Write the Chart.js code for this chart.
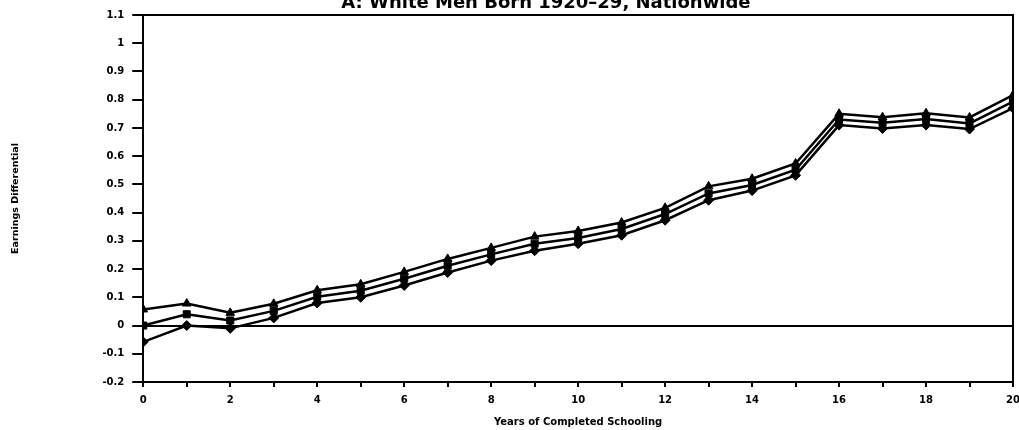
<!DOCTYPE html>
<html>
<head>
<meta charset="utf-8">
<script src="https://cdn.jsdelivr.net/npm/chart.js@4/dist/chart.umd.min.js"></script>
<style>
html,body{margin:0;padding:0;background:#fff;}
#wrap{width:1019px;height:430px;position:relative;overflow:hidden;}
</style>
</head>
<body>
<div id="wrap"><canvas id="c" width="1019" height="430"></canvas></div>
<script>
// ---- data ----
const schooling = [0,1,2,3,4,5,6,7,8,9,10,11,12,13,14,15,16,17,18,19,20];
const upperBound = [0.057,0.078,0.045,0.077,0.125,0.146,0.190,0.236,0.275,0.315,0.335,0.365,0.417,0.493,0.520,0.574,0.750,0.738,0.752,0.737,0.816];
const estimate   = [0.000,0.040,0.018,0.052,0.102,0.123,0.166,0.212,0.252,0.290,0.310,0.342,0.395,0.468,0.498,0.552,0.730,0.718,0.732,0.716,0.793];
const lowerBound = [-0.058,0.000,-0.010,0.027,0.080,0.100,0.142,0.188,0.230,0.265,0.290,0.320,0.373,0.444,0.478,0.532,0.710,0.698,0.710,0.696,0.770];
const yTickValues = [-0.2,-0.1,0,0.1,0.2,0.3,0.4,0.5,0.6,0.7,0.8,0.9,1,1.1];
const xTickValues = schooling;
const chartTitle = 'A: White Men Born 1920\u201329, Nationwide';
const xTitle = 'Years of Completed Schooling';
const yTitle = 'Earnings Differential';

const FONT = '"DejaVu Sans", sans-serif';
const toPts = arr => schooling.map((x, i) => ({x: x, y: arr[i]}));

function series(values, style) {
  return {
    data: toPts(values),
    borderColor: '#000',
    backgroundColor: '#000',
    borderWidth: 2.5,
    pointStyle: style,
    pointRadius: 5,
    pointBorderWidth: 1,
    pointBorderColor: '#000',
    pointBackgroundColor: '#000',
    tension: 0,
    fill: false
  };
}

const topTitlePlugin = {
  id: 'topTitle',
  afterDraw(chart) {
    const {ctx, chartArea} = chart;
    ctx.save();
    ctx.font = 'bold 18px ' + FONT;
    ctx.fillStyle = '#000';
    ctx.textAlign = 'center';
    ctx.textBaseline = 'alphabetic';
    const cx = chartArea.left + (chartArea.right - chartArea.left) * 0.463;
    ctx.fillText(chartTitle, cx, 8);
    ctx.restore();
  }
};

new Chart(document.getElementById('c'), {
  type: 'line',
  data: {
    datasets: [
      series(upperBound, 'triangle'),
      series(estimate, 'rect'),
      series(lowerBound, 'rectRot')
    ]
  },
  plugins: [topTitlePlugin],
  options: {
    responsive: false,
    animation: false,
    devicePixelRatio: 1,
    layout: {padding: {top: 15, right: 5, bottom: 2, left: 0}},
    plugins: {legend: {display: false}, tooltip: {enabled: false}, title: {display: false}},
    scales: {
      x: {
        type: 'linear',
        min: 0, max: 20,
        afterBuildTicks: s => { s.ticks = xTickValues.map(v => ({value: v})); },
        afterFit: s => { s.paddingRight = 0; },
        ticks: {
          color: '#000',
          font: {family: FONT, size: 10, weight: 'bold'},
          padding: 7,
          maxRotation: 0,
          autoSkip: false,
          callback: v => (v % 2 === 0 ? String(v) : '')
        },
        grid: {drawOnChartArea: false, tickLength: 5, tickColor: '#000', tickWidth: 2, lineWidth: 2, color: '#000'},
        border: {display: true, color: '#000', width: 2},
        title: {display: true, text: xTitle, color: '#000', font: {family: FONT, size: 10, weight: 'bold'}, padding: {top: 3, bottom: 0}}
      },
      y: {
        type: 'linear',
        min: -0.2, max: 1.1,
        afterBuildTicks: s => { s.ticks = yTickValues.map(v => ({value: v})); },
        ticks: {
          color: '#000',
          font: {family: FONT, size: 10, weight: 'bold'},
          padding: 8,
          callback: v => String(Number(Number(v).toFixed(1)))
        },
        grid: {
          drawOnChartArea: true,
          color: c => (c.tick && Math.abs(c.tick.value) < 1e-9 ? '#000' : 'rgba(0,0,0,0)'),
          tickColor: '#000',
          tickLength: 11,
          tickWidth: 2,
          lineWidth: 2
        },
        border: {display: true, color: '#000', width: 2},
        title: {display: true, text: yTitle, color: '#000', font: {family: FONT, size: 9.5, weight: 'bold'}, padding: {top: 10, bottom: 73}}
      },
      x2: {
        type: 'linear', position: 'top', display: true, min: 0, max: 20,
        ticks: {display: false},
        grid: {display: false, drawTicks: false},
        border: {display: true, color: '#000', width: 2}
      },
      y2: {
        type: 'linear', position: 'right', display: true, min: -0.2, max: 1.1,
        ticks: {display: false},
        grid: {display: false, drawTicks: false},
        border: {display: true, color: '#000', width: 2}
      }
    }
  }
});
</script>
</body>
</html>
